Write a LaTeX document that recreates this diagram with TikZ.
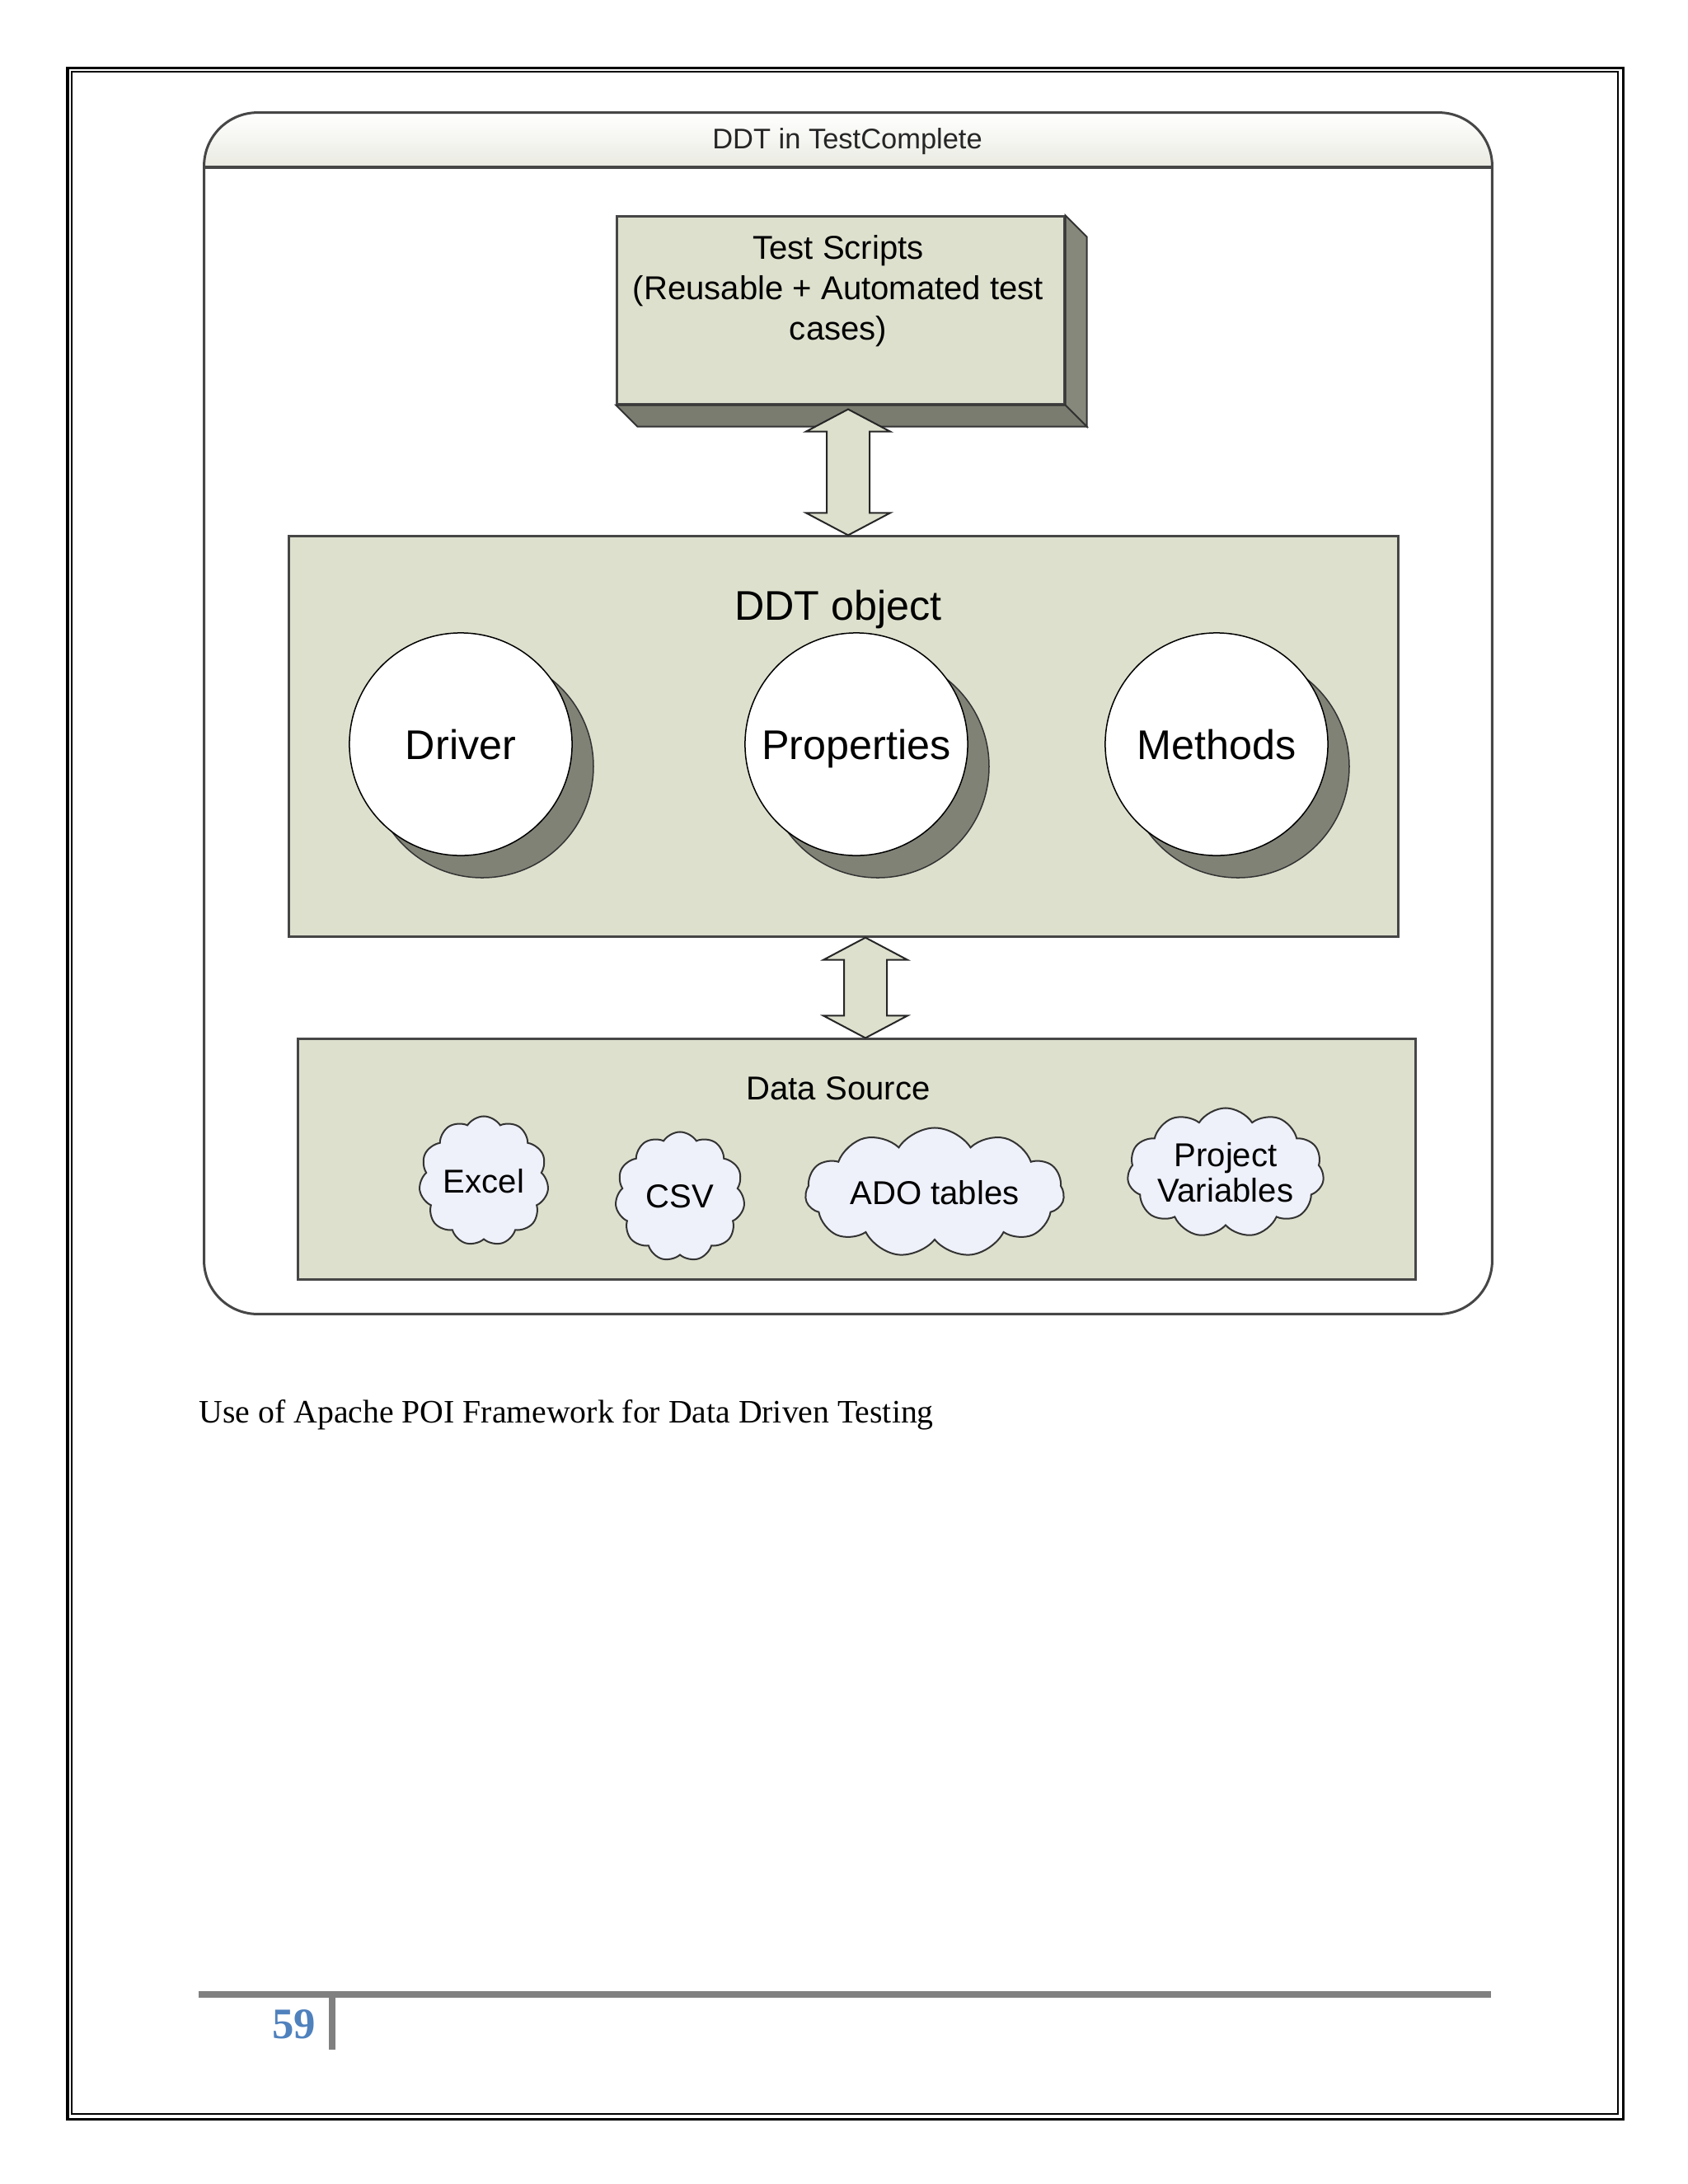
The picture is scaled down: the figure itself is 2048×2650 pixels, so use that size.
\documentclass[tikz,border=0pt]{standalone}
\usepackage{fontspec}
\setmainfont{Liberation Serif}
\newfontfamily\arialfont{Liberation Sans}
\usetikzlibrary{shapes.symbols,calc}

\definecolor{sage}{RGB}{221,224,205}
\definecolor{sidegray}{RGB}{134,136,123}
\definecolor{bottomgray}{RGB}{122,124,112}
\definecolor{shadowgray}{RGB}{128,130,118}
\definecolor{cloudfill}{RGB}{238,240,250}
\definecolor{edgegray}{RGB}{70,70,70}
\definecolor{hdrgray}{RGB}{234,234,226}
\definecolor{pgblue}{RGB}{79,129,189}
\definecolor{footgray}{RGB}{128,128,128}

\newcommand\dblarrow[2]{%
  \filldraw[blockarrow] (#1) -- ($(#1)+(51,27)$) -- ($(#1)+(26,27)$) -- ($(#2)+(26,-27)$) -- ($(#2)+(51,-27)$) -- (#2)
    -- ($(#2)+(-51,-27)$) -- ($(#2)+(-26,-27)$) -- ($(#1)+(-26,27)$) -- ($(#1)+(-51,27)$) -- cycle;}

\begin{document}
\begin{tikzpicture}[x=0.01cm,y=-0.01cm,
  panel/.style={rectangle, draw=edgegray, fill=sage, line width=0.03cm, inner sep=0},
  faceside/.style={fill=sidegray, draw=black!80, line width=0.02cm, line join=miter},
  facebottom/.style={fill=bottomgray, draw=black!80, line width=0.02cm, line join=miter},
  blockarrow/.style={fill=sage, draw=black!85, line width=0.02cm, line join=miter},
  bubble/.style={circle, draw=black, line width=0.015cm, fill=white, minimum size=2.70cm, inner sep=0, text depth=0pt,
    font=\arialfont\fontsize{14.3}{17}\selectfont},
  bubbleshadow/.style={fill=shadowgray, draw=black!80, line width=0.015cm},
  cloudnode/.style={cloud, cloud puffs=11, cloud puff arc=115, cloud ignores aspect, draw=black!80, line width=0.02cm,
    fill=cloudfill, inner sep=0, align=center, font=\arialfont\fontsize{11.4}{12.3}\selectfont},
  plaintext/.style={inner sep=0, font=\arialfont\fontsize{11.4}{13.8}\selectfont},
]
\useasboundingbox (0,0) rectangle (2048,2650);

% page border
\draw[line width=0.03cm] (82,82) rectangle (1969,2571);
\draw[line width=0.025cm] (87,87) rectangle (1963,2565);

% container with header
\begin{scope}
  \clip[rounded corners=0.65cm] (248,137) rectangle (1810,1594);
  \shade[top color=white, bottom color=hdrgray] (248,137) rectangle (1810,203);
\end{scope}
\node[rectangle, rounded corners=0.65cm, draw=edgegray, line width=0.03cm, minimum width=15.62cm, minimum height=14.57cm, inner sep=0] (frame) at (1029,865.5) {};
\draw[edgegray, line width=0.04cm] (frame.west |- 0,203) -- (frame.east |- 0,203);
\node[inner sep=0, anchor=base, font=\arialfont\fontsize{9.8}{12}\selectfont, text=black!85] (hdr) at (1028,180) {DDT in TestComplete};

% Test Scripts 3D box
\node[panel, minimum width=5.42cm, minimum height=2.27cm] (ts) at (1020,376.5) {};
\filldraw[faceside] (ts.north east) -- ++(26,26) -- ($(ts.south east)+(26,26)$) -- (ts.south east) -- cycle;
\filldraw[facebottom] (ts.south west) -- ++(26,26) -- ($(ts.south east)+(26,26)$) -- (ts.south east) -- cycle;
\node[plaintext, anchor=base, align=center] (tstext) at (1017,412) {Test Scripts\\(Reusable + Automated test\\cases)};

% DDT object box
\node[panel, minimum width=13.45cm, minimum height=4.85cm] (ddt) at (1023.5,893.5) {};
\node[plaintext, anchor=base, font=\arialfont\fontsize{14.3}{17}\selectfont] (ddttitle) at (1017,752) {DDT object};

\coordinate (cD) at (559,903);
\coordinate (cP) at (1039,903);
\coordinate (cM) at (1476,903);
\filldraw[bubbleshadow] ($(cD)+(26,27)$) circle[radius=135];
\filldraw[bubbleshadow] ($(cP)+(26,27)$) circle[radius=135];
\filldraw[bubbleshadow] ($(cM)+(26,27)$) circle[radius=135];
\node[bubble] (drv) at (cD) {Driver};
\node[bubble] (prop) at (cP) {Properties};
\node[bubble] (meth) at (cM) {Methods};

% Data Source box
\node[panel, minimum width=13.55cm, minimum height=2.91cm] (ds) at (1039.5,1406.5) {};
\node[plaintext, anchor=base] (dstitle) at (1017,1334) {Data Source};
\node[cloudnode, minimum width=1.57cm, minimum height=1.57cm] (xl) at (587,1433) {Excel};
\node[cloudnode, minimum width=1.57cm, minimum height=1.57cm] (csv) at (825,1452) {CSV};
\node[cloudnode, minimum width=3.14cm, minimum height=1.57cm] (ado) at (1134,1447) {ADO tables};
\node[cloudnode, minimum width=2.30cm, minimum height=1.57cm] (pv) at (1487,1423) {Project\\Variables};

% block arrows
\coordinate (a1t) at ($(ts.south)+(9,5)$);
\coordinate (a1b) at (ddt.north -| a1t);
\dblarrow{a1t}{a1b}
\coordinate (a2t) at ($(ddt.south)+(26.5,0)$);
\coordinate (a2b) at (ds.north -| a2t);
\dblarrow{a2t}{a2b}

% caption
\node[inner sep=0, anchor=base west, font=\fontsize{11.3}{13}\selectfont] (cap) at (241,1726) {Use of Apache POI Framework for Data Driven Testing};

% footer
\draw[footgray, line width=0.08cm] (241,2420) -- (1809,2420);
\draw[footgray, line width=0.08cm] (403,2424) -- (403,2487);
\node[inner sep=0, anchor=base east, text=pgblue, font=\bfseries\fontsize{15}{18}\selectfont] (pg) at (384,2473) {59};
\end{tikzpicture}
\end{document}
